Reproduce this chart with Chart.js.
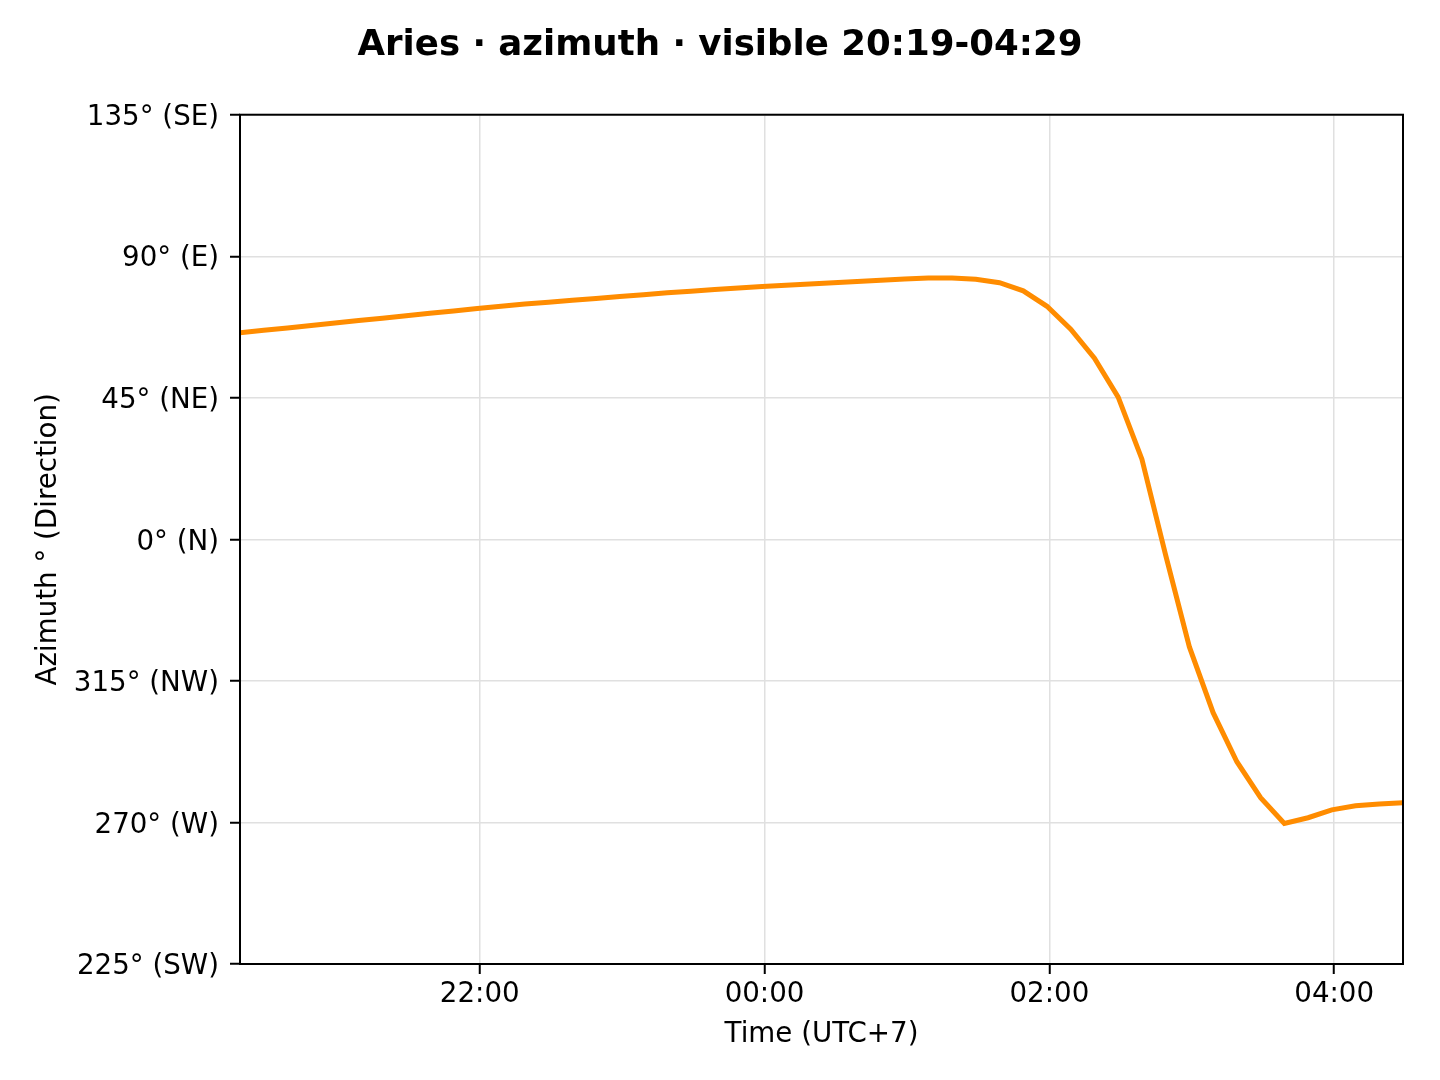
<!DOCTYPE html>
<html><head><meta charset="utf-8">
<script src="https://cdn.jsdelivr.net/npm/chart.js@4.4.1/dist/chart.umd.min.js"></script>
<style>html,body{margin:0;padding:0;background:#fff;}#wrap{width:1440px;height:1080px;}</style>
</head><body><div id="wrap"><canvas id="c" width="1440" height="1080"></canvas></div>
<script>
const titleText = 'Aries · azimuth · visible 20:19-04:29';
const xAxisTitle = 'Time (UTC+7)';
const yAxisTitle = 'Azimuth ° (Direction)';
const times = ['20:19','20:29','20:39','20:49','20:59','21:09','21:19','21:29','21:39','21:49',
  '21:59','22:09','22:19','22:29','22:39','22:49','22:59','23:09','23:19','23:29',
  '23:39','23:49','23:59','00:09','00:19','00:29','00:39','00:49','00:59','01:09',
  '01:19','01:29','01:39','01:49','01:59','02:09','02:19','02:29','02:39','02:49',
  '02:59','03:09','03:19','03:29','03:39','03:49','03:59','04:09','04:19','04:29'];
// unwrapped azimuth (negative = 360 + value)
const azimuth = [65.7,66.5,67.2,68.0,68.8,69.6,70.3,71.1,71.9,72.6,
  73.4,74.1,74.8,75.4,76.0,76.6,77.2,77.8,78.4,78.9,
  79.4,79.9,80.4,80.8,81.2,81.6,82.0,82.4,82.8,83.1,
  83.1,82.7,81.6,79.0,74.1,66.8,57.6,45.2,25.5,-5.0,
  -34.2,-55.1,-70.7,-82.1,-90.3,-88.5,-86.0,-84.7,-84.1,-83.7];
const xTickTimes = ['22:00','00:00','02:00','04:00'];
const yTickValues = [135,90,45,0,-45,-90,-135];
const yTickLabels = ['135° (SE)','90° (E)','45° (NE)','0° (N)','315° (NW)','270° (W)','225° (SW)'];

function toMin(s){const [h,m]=s.split(':').map(Number);let v=h*60+m;if(h>=12)v-=1440;return v;}
function fmt(v){let t=((v%1440)+1440)%1440;const h=Math.floor(t/60),m=t%60;return String(h).padStart(2,'0')+':'+String(m).padStart(2,'0');}

const points = times.map((t,i)=>({x:toMin(t),y:azimuth[i]}));
const FONT = 'DejaVu Sans';
const FS = 27.7;
Chart.defaults.color = '#000';
Chart.defaults.font.family = FONT;

const frame = {id:'frame',afterDraw(ch){const a=ch.chartArea,c=ch.ctx;c.save();c.strokeStyle='#000';c.lineWidth=2;c.strokeRect(a.left,a.top,a.right-a.left,a.bottom-a.top);c.restore();}};

new Chart(document.getElementById('c'),{
  type:'line',
  data:{datasets:[{data:points,borderColor:'#ff8c00',borderWidth:5,pointRadius:0,tension:0,fill:false}]},
  options:{
    responsive:false,devicePixelRatio:1,animation:false,
    layout:{padding:0},
    plugins:{legend:{display:false},tooltip:{enabled:false},
      title:{display:true,text:titleText,font:{family:FONT,size:35.6,weight:'bold'},color:'#000',padding:{top:24,bottom:48}}},
    scales:{
      x:{type:'linear',min:toMin(times[0]),max:toMin(times[times.length-1]),
        afterBuildTicks:s=>{s.ticks=xTickTimes.map(t=>({value:toMin(t)}));},
        afterFit:s=>{s.height=116;},
        ticks:{callback:v=>fmt(v),font:{family:FONT,size:FS},padding:4,maxRotation:0,autoSkip:false},
        grid:{color:'#e0e0e0',lineWidth:1.5,tickColor:'#000',tickLength:10,tickWidth:2},
        border:{display:false},
        title:{display:true,text:xAxisTitle,font:{family:FONT,size:FS},padding:{top:0,bottom:29}}},
      y:{type:'linear',min:-135,max:135,
        afterBuildTicks:s=>{s.ticks=yTickValues.map(v=>({value:v}));},
        afterFit:s=>{s.width=240;},
        ticks:{callback:(v)=>{const i=yTickValues.indexOf(v);return i>=0?yTickLabels[i]:'';},font:{family:FONT,size:FS},padding:11,labelOffset:3,autoSkip:false},
        grid:{color:'#e0e0e0',lineWidth:1.5,tickColor:'#000',tickLength:10,tickWidth:2},
        border:{display:false},
        title:{display:true,text:yAxisTitle,font:{family:FONT,size:FS},padding:{top:32,bottom:0}}},
      spacer:{type:'linear',position:'right',display:true,
        afterFit:s=>{s.width=37;},
        ticks:{display:false},grid:{display:false,drawTicks:false},border:{display:false},title:{display:false}}
    }
  },
  plugins:[frame]
});
</script></body></html>
